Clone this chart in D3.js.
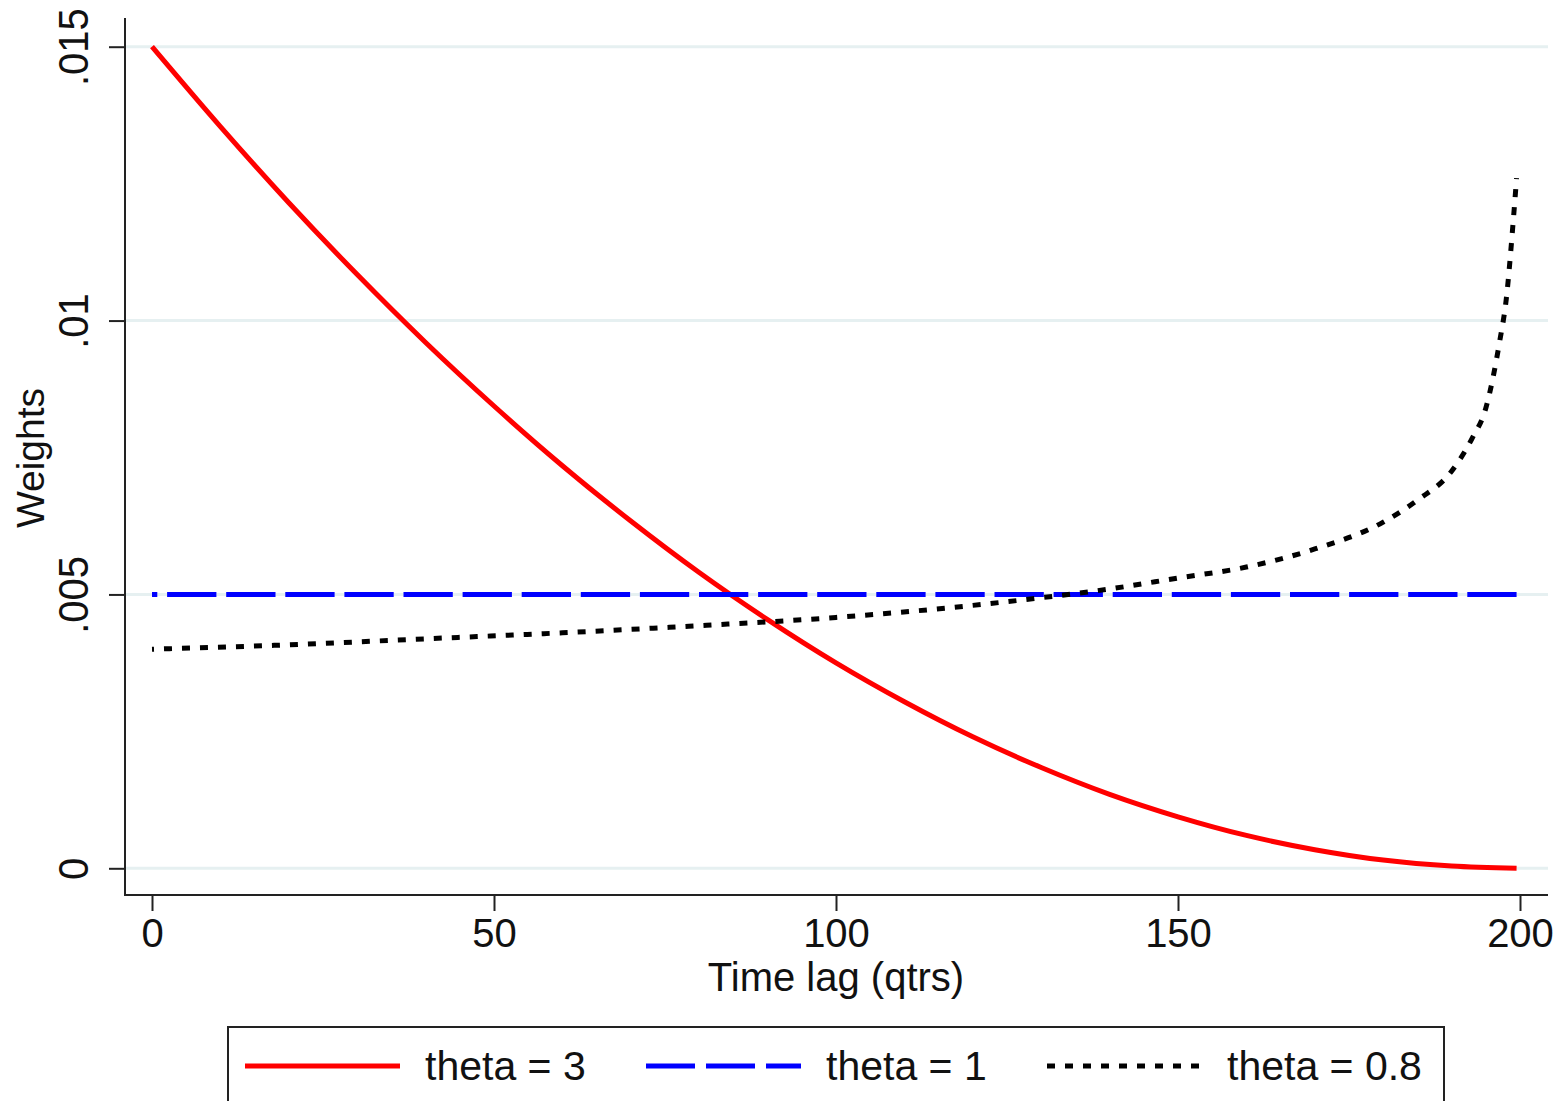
<!DOCTYPE html>
<html>
<head>
<meta charset="UTF-8">
<title>Weights by time lag</title>
<script src="https://d3js.org/d3.v7.min.js"></script>
<style>
  body { margin: 0; background: #fff; }
  text { font-family: "Liberation Sans", Arial, sans-serif; fill: #111; }
</style>
</head>
<body>
<div id="chart"></div>
<script>
// values
var lagsTheta3 = [0, 10, 20, 30, 40, 50, 60, 70, 80, 90, 100, 110, 120, 130, 140, 150, 160, 170, 180, 190, 199.5];
var wTheta3 = [0.0150, 0.01354, 0.01215, 0.01084, 0.0096, 0.00844, 0.00735, 0.00634, 0.0054, 0.00454, 0.00375,
               0.00304, 0.0024, 0.00184, 0.00135, 0.00094, 0.0006, 0.00034, 0.00015, 0.00004, 0.0];

var lagsTheta1 = [0, 199.5];
var wTheta1 = [0.005, 0.005];

var lagsTheta08 = [0, 20, 40, 60, 80, 100, 120, 130, 140, 150, 160, 170, 180, 185, 190, 193, 195, 197, 198, 199, 199.5];
var wTheta08 = [0.0040, 0.00408, 0.00419, 0.0043, 0.00443, 0.00458, 0.0048, 0.00494, 0.0051, 0.0053, 0.0055,
                0.00583, 0.00632, 0.00672, 0.00725, 0.00785, 0.0084, 0.0096, 0.0104, 0.0118, 0.0126];

var xTicks = [0, 50, 100, 150, 200];
var yTicks = [0, 0.005, 0.01, 0.015];
var yTickLabels = ["0", ".005", ".01", ".015"];
var seriesNames = ["theta = 3", "theta = 1", "theta = 0.8"];

var W = 1561, H = 1101;
var svg = d3.select("#chart").append("svg")
  .attr("width", W).attr("height", H);

var x = d3.scaleLinear().domain([0, 200]).range([152, 1520]);
var y = d3.scaleLinear().domain([0, 0.015]).range([868.3, 46.7]);

var axisLeftX = 125, axisBottomY = 895, plotRight = 1548, plotTop = 18;

// gridlines
svg.append("g").selectAll("line").data(yTicks).enter().append("line")
  .attr("x1", axisLeftX + 1).attr("x2", plotRight)
  .attr("y1", function(d) { return y(d); }).attr("y2", function(d) { return y(d); })
  .attr("stroke", "#e6f0f1").attr("stroke-width", 3);

// series
var series = [
  {lags: lagsTheta3, w: wTheta3, color: "#ff0000", width: 5, dash: null, offset: 0},
  {lags: lagsTheta1, w: wTheta1, color: "#0000ff", width: 5, dash: "49.3,9.8", offset: 44},
  {lags: lagsTheta08, w: wTheta08, color: "#000000", width: 5, dash: "8,10", offset: 6}
];

var line = d3.line()
  .x(function(d) { return x(d[0]); })
  .y(function(d) { return y(d[1]); })
  .curve(d3.curveMonotoneX);

series.forEach(function(s) {
  svg.append("path")
    .datum(d3.zip(s.lags, s.w))
    .attr("fill", "none")
    .attr("stroke", s.color)
    .attr("stroke-width", s.width)
    .attr("stroke-dasharray", s.dash)
    .attr("stroke-dashoffset", s.offset)
    .attr("d", line);
});

// axes
var gy = svg.append("g")
  .attr("transform", "translate(" + axisLeftX + ",0)")
  .call(d3.axisLeft(y).tickValues(yTicks).tickSize(16)
    .tickFormat(function(d, i) { return yTickLabels[i]; }));
gy.select(".domain").remove();
gy.selectAll(".tick line").attr("stroke", "#222").attr("stroke-width", 2);
gy.selectAll(".tick text")
  .attr("x", 0).attr("dy", 0)
  .attr("transform", "translate(-37,0) rotate(-90) scale(1,1.08)")
  .attr("text-anchor", "middle")
  .attr("font-size", 40)
  .attr("font-family", "Liberation Sans, Arial, sans-serif")
  .attr("fill", "#111");

var gx = svg.append("g")
  .attr("transform", "translate(0," + axisBottomY + ")")
  .call(d3.axisBottom(x).tickValues(xTicks).tickSize(16));
gx.select(".domain").remove();
gx.selectAll(".tick line").attr("stroke", "#222").attr("stroke-width", 2);
gx.selectAll(".tick text")
  .attr("y", 52).attr("dy", 0)
  .attr("font-size", 40)
  .attr("font-family", "Liberation Sans, Arial, sans-serif")
  .attr("fill", "#111");

svg.append("line")
  .attr("x1", axisLeftX).attr("x2", axisLeftX)
  .attr("y1", plotTop).attr("y2", axisBottomY + 1)
  .attr("stroke", "#222").attr("stroke-width", 2);
svg.append("line")
  .attr("x1", axisLeftX - 1).attr("x2", plotRight)
  .attr("y1", axisBottomY).attr("y2", axisBottomY)
  .attr("stroke", "#222").attr("stroke-width", 2);

// axis titles
svg.append("text")
  .attr("transform", "translate(44,458) rotate(-90)")
  .attr("text-anchor", "middle")
  .attr("font-size", 39)
  .text("Weights");

svg.append("text")
  .attr("x", 836).attr("y", 991)
  .attr("text-anchor", "middle")
  .attr("font-size", 40)
  .text("Time lag (qtrs)");

// legend
svg.append("rect")
  .attr("x", 228).attr("y", 1027)
  .attr("width", 1216).attr("height", 100)
  .attr("fill", "#fff").attr("stroke", "#222").attr("stroke-width", 2);

var legendDash = [null, "49,11", "8,10"];
var leg = svg.append("g").selectAll("g").data(series).enter().append("g")
  .attr("transform", function(d, i) { return "translate(" + (245 + i * 401) + ",1066)"; });
leg.append("line")
  .attr("x1", 0).attr("x2", 155)
  .attr("stroke", function(d) { return d.color; })
  .attr("stroke-width", function(d) { return d.width; })
  .attr("stroke-dasharray", function(d, i) { return legendDash[i]; });
leg.append("text")
  .attr("x", 180).attr("y", 14)
  .attr("font-size", 41)
  .text(function(d, i) { return seriesNames[i]; });
</script>
</body>
</html>
